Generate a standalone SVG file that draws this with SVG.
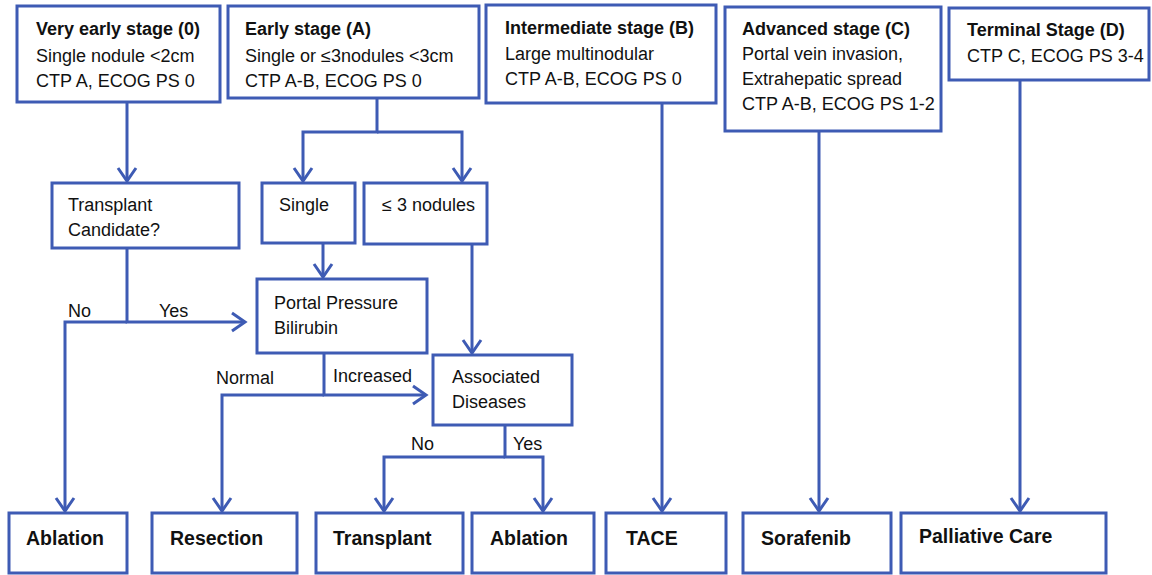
<svg xmlns="http://www.w3.org/2000/svg" width="1152" height="575" viewBox="0 0 1152 575">
<style>
.box{fill:#fff;stroke:#3E5BB4;stroke-width:3}
.ln{fill:none;stroke:#3E5BB4;stroke-width:3}
.t{font-family:"Liberation Sans",Arial,sans-serif;font-size:18px;fill:#111}
.b{font-weight:bold}
.big{font-family:"Liberation Sans",Arial,sans-serif;font-size:19.5px;font-weight:bold;fill:#111}
</style>
<defs>
<marker id="arr" viewBox="-16 -12 20 24" refX="0" refY="0" markerWidth="20" markerHeight="24" markerUnits="userSpaceOnUse" orient="auto">
<path d="M-13,-9 L0,0 L-13,9" fill="none" stroke="#3E5BB4" stroke-width="3"/>
</marker>
</defs>
<rect width="1152" height="575" fill="#fff"/>
<g id="connectors">
<path class="ln" d="M127,102 V181" marker-end="url(#arr)"/>
<path class="ln" d="M377,98 V132 H303 V181" marker-end="url(#arr)"/>
<path class="ln" d="M377,132 H462 V181" marker-end="url(#arr)"/>
<path class="ln" d="M127,248 V322 H245" marker-end="url(#arr)"/>
<path class="ln" d="M127,322 H65 V511" marker-end="url(#arr)"/>
<path class="ln" d="M323,243 V277" marker-end="url(#arr)"/>
<path class="ln" d="M472,244 V353" marker-end="url(#arr)"/>
<path class="ln" d="M324,353 V395 H426" marker-end="url(#arr)"/>
<path class="ln" d="M324,395 H222 V511" marker-end="url(#arr)"/>
<path class="ln" d="M505,425 V457 H543 V511" marker-end="url(#arr)"/>
<path class="ln" d="M505,457 H384 V511" marker-end="url(#arr)"/>
<path class="ln" d="M662,103 V511" marker-end="url(#arr)"/>
<path class="ln" d="M819,131 V511" marker-end="url(#arr)"/>
<path class="ln" d="M1020,80 V511" marker-end="url(#arr)"/>
<text class="t" x="68" y="317">No</text>
<text class="t" x="159" y="317">Yes</text>
<text class="t" x="216" y="384">Normal</text>
<text class="t" x="333" y="382">Increased</text>
<text class="t" x="411" y="450">No</text>
<text class="t" x="513" y="450">Yes</text>
</g>
<g id="stage0">
<rect class="box" x="17" y="6" width="203" height="96"/>
<text class="t b" x="36" y="35">Very early stage (0)</text>
<text class="t" x="36" y="62">Single nodule &lt;2cm</text>
<text class="t" x="36" y="87">CTP A, ECOG PS 0</text>
</g>
<g id="stageA">
<rect class="box" x="228" y="6" width="251" height="92"/>
<text class="t b" x="245" y="35">Early stage (A)</text>
<text class="t" x="245" y="62">Single or ≤3nodules &lt;3cm</text>
<text class="t" x="245" y="87">CTP A-B, ECOG PS 0</text>
</g>
<g id="stageB">
<rect class="box" x="486" y="5" width="230" height="98"/>
<text class="t b" x="505" y="34">Intermediate stage (B)</text>
<text class="t" x="505" y="60">Large multinodular</text>
<text class="t" x="505" y="85">CTP A-B, ECOG PS 0</text>
</g>
<g id="stageC">
<rect class="box" x="725" y="7" width="216" height="124"/>
<text class="t b" x="742" y="35">Advanced stage (C)</text>
<text class="t" x="742" y="60">Portal vein invasion,</text>
<text class="t" x="742" y="85">Extrahepatic spread</text>
<text class="t" x="742" y="110">CTP A-B, ECOG PS 1-2</text>
</g>
<g id="stageD">
<rect class="box" x="949" y="8" width="200" height="72"/>
<text class="t b" x="967" y="36">Terminal Stage (D)</text>
<text class="t" x="967" y="62">CTP C, ECOG PS 3-4</text>
</g>
<g id="candidate">
<rect class="box" x="52" y="183" width="187" height="65"/>
<text class="t" x="68" y="211">Transplant</text>
<text class="t" x="68" y="236">Candidate?</text>
</g>
<g id="single">
<rect class="box" x="262" y="183" width="93" height="60"/>
<text class="t" x="279" y="211">Single</text>
</g>
<g id="nodules">
<rect class="box" x="364" y="183" width="123" height="61"/>
<text class="t" x="382" y="211">≤ 3 nodules</text>
</g>
<g id="portal">
<rect class="box" x="257" y="279" width="170" height="74"/>
<text class="t" x="274" y="309">Portal Pressure</text>
<text class="t" x="274" y="334">Bilirubin</text>
</g>
<g id="associated">
<rect class="box" x="433" y="355" width="139" height="70"/>
<text class="t" x="452" y="383">Associated</text>
<text class="t" x="452" y="408">Diseases</text>
</g>
<g id="ablation1">
<rect class="box" x="9" y="513" width="118" height="60"/>
<text class="big" x="26" y="545">Ablation</text>
</g>
<g id="resection">
<rect class="box" x="152" y="513" width="145" height="60"/>
<text class="big" x="170" y="545">Resection</text>
</g>
<g id="transplant">
<rect class="box" x="316" y="513" width="147" height="60"/>
<text class="big" x="333" y="545">Transplant</text>
</g>
<g id="ablation2">
<rect class="box" x="472" y="513" width="122" height="60"/>
<text class="big" x="490" y="545">Ablation</text>
</g>
<g id="tace">
<rect class="box" x="606" y="513" width="120" height="60"/>
<text class="big" x="626" y="545">TACE</text>
</g>
<g id="sorafenib">
<rect class="box" x="743" y="513" width="148" height="60"/>
<text class="big" x="761" y="545">Sorafenib</text>
</g>
<g id="palliative">
<rect class="box" x="901" y="513" width="205" height="60"/>
<text class="big" x="919" y="543">Palliative Care</text>
</g>
</svg>
